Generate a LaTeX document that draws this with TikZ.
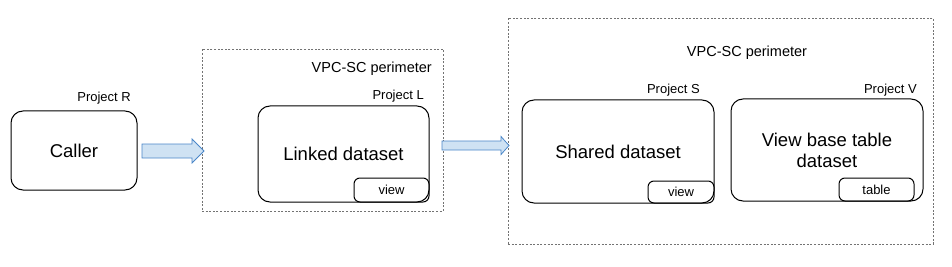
\documentclass[tikz,border=0pt]{standalone}
\usepackage{fontspec}
\setmainfont{Liberation Sans}
\usepackage{xcolor}
\usepackage{tikz}
\usetikzlibrary{positioning,calc}
\definecolor{arrowfill}{RGB}{207,226,243}
\definecolor{arrowline}{RGB}{74,134,200}
\definecolor{perimgray}{gray}{0.45}
\tikzset{
  bigbox/.style={draw,line width=1pt,rounded corners=12pt,inner sep=0pt,outer sep=0pt,
    align=center,font=\fontsize{18.5}{21}\selectfont},
  tagbox/.style={draw,line width=1pt,rounded corners=6pt,inner sep=0pt,outer sep=0pt,
    font=\fontsize{13}{15}\selectfont},
  perim/.style={draw=perimgray,line width=0.8pt,dash pattern=on 2pt off 1.6pt,inner sep=0pt,outer sep=0pt},
  projlab/.style={font=\fontsize{13}{15}\selectfont,anchor=east,inner sep=0pt},
  perimlab/.style={font=\fontsize{14.5}{17}\selectfont,inner sep=0pt},
  flowarrow/.style={draw=arrowline,fill=arrowfill,line width=0.8pt,line join=miter},
}
% block arrow: tail, tip, body half height, head half height, head length
\newcommand{\blockarrow}[5]{%
  \draw[flowarrow] ($(#1)+(0,-#3)$) -- ($(#2)+(-#5,-#3)$) -- ($(#2)+(-#5,-#4)$) -- (#2)
    -- ($(#2)+(-#5,#4)$) -- ($(#2)+(-#5,#3)$) -- ($(#1)+(0,#3)$) -- cycle;}
\begin{document}
\begin{tikzpicture}[x=1pt,y=-1pt]
  \useasboundingbox (0,0) rectangle (952,267);
  % perimeters
  \node[perim,minimum width=241pt,minimum height=162pt] (perimL) at (322.5,130) {};
  \node[perim,minimum width=425pt,minimum height=226pt] (perimS) at (720.5,131) {};
  \node[perimlab,anchor=east] (perimLlab) at (432,69) {VPC-SC perimeter};
  \node[perimlab] (perimSlab) at (747,53) {VPC-SC perimeter};
  % projects
  \node[bigbox,minimum width=126pt,minimum height=79pt] (caller) at (74,150.5) {Caller};
  \node[projlab] (projR) at (131,98) {Project R};
  \node[bigbox,minimum width=171pt,minimum height=96pt] (linked) at (343.5,154) {Linked dataset};
  \node[tagbox,minimum width=75pt,minimum height=24pt] (linkedview) at (391.5,190) {view};
  \node[projlab] (projL) at (424,96) {Project L};
  \node[bigbox,minimum width=192pt,minimum height=103pt] (shared) at (618,151.5) {Shared dataset};
  \node[tagbox,minimum width=66pt,minimum height=22pt] (sharedview) at (681,192) {view};
  \node[projlab] (projS) at (700,90) {Project S};
  \node[bigbox,minimum width=192pt,minimum height=102pt] (basetab) at (827,150) {View base table\\dataset};
  \node[tagbox,minimum width=75pt,minimum height=23pt] (basetable) at (876.5,189.5) {table};
  \node[projlab] (projV) at (917,90) {Project V};
  % arrows
  \coordinate (arrRLtail) at ($(caller.east)+(5,0.5)$);
  \coordinate (arrRLtip) at ($(perimL.west)+(2,21)$);
  \coordinate (arrLStail) at ($(perimL.east)+(-1,15.5)$);
  \coordinate (arrLStip) at ($(perimS.west)+(1,14.5)$);
  \blockarrow{arrRLtail}{arrRLtip}{7}{12}{12}
  \blockarrow{arrLStail}{arrLStip}{4.5}{9}{8}
\end{tikzpicture}
\end{document}
